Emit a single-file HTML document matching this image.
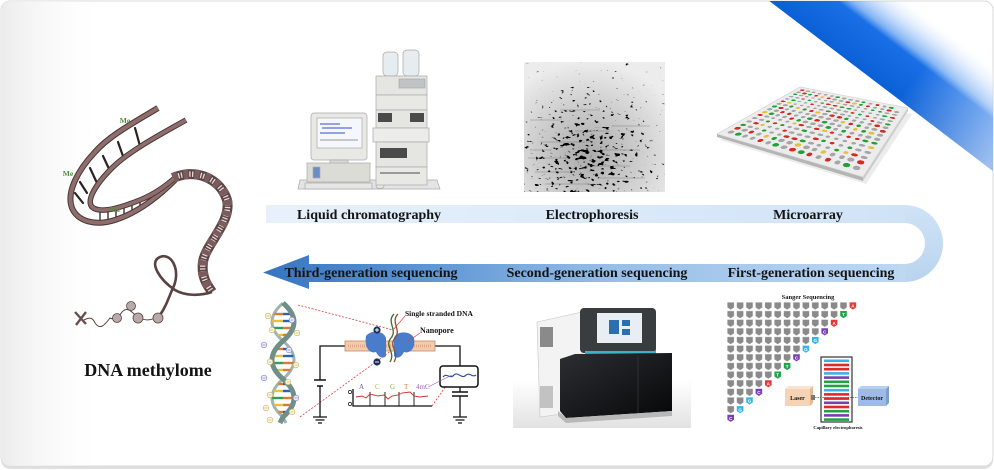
<!DOCTYPE html>
<html><head><meta charset="utf-8">
<style>
html,body{margin:0;padding:0;background:#fff;width:994px;height:470px;overflow:hidden;position:relative}
svg{display:block;position:absolute;left:0;top:0}
.t{font-family:"Liberation Serif","DejaVu Serif",serif;font-weight:bold;fill:#141414}
.cl{font-family:"Liberation Sans",sans-serif;font-size:4.6px;fill:#fff;text-anchor:middle;font-weight:bold}
#ma{position:absolute;left:0;top:0;width:100px;height:100px;transform-origin:0 0;
transform:matrix3d(4.2712,-0.0958,0,0.0043015,-0.1618,0.0974,0,-0.0018793,0,0,1,0,717,134,0,1);
display:grid;grid-template-columns:repeat(16,1fr);grid-template-rows:repeat(16,1fr);padding:3px;box-sizing:border-box}
#ma i{display:block;margin:1.15px;border-radius:50%;background:#a6a6a6}
#ma i.r{background:#d42a22}#ma i.g{background:#25a034}#ma i.y{background:#e3c040}
</style></head><body>
<svg width="994" height="470" viewBox="0 0 994 470" xmlns="http://www.w3.org/2000/svg">
<defs>
 <clipPath id="cc"><rect x="1" y="1" width="992" height="465" rx="9"/></clipPath>
 <linearGradient id="lg" x1="0" x2="1" y1="0" y2="0"><stop offset="0" stop-color="#ebebeb"/><stop offset="1" stop-color="#fff" stop-opacity="0"/></linearGradient>
 <linearGradient id="st1" gradientUnits="userSpaceOnUse" x1="880" y1="85" x2="930" y2="19">
  <stop offset="0" stop-color="#0c60d6"/><stop offset="0.5" stop-color="#1a6fe6"/><stop offset="0.6" stop-color="#5b9cf0" stop-opacity="0.75"/><stop offset="1" stop-color="#d8e8fb" stop-opacity="0"/>
 </linearGradient>
 <linearGradient id="st2" gradientUnits="userSpaceOnUse" x1="800" y1="0" x2="994" y2="160">
  <stop offset="0" stop-color="#fff" stop-opacity="0"/><stop offset="0.55" stop-color="#fff" stop-opacity="0"/><stop offset="1" stop-color="#fff" stop-opacity="0.6"/>
 </linearGradient>
 <linearGradient id="bt" x1="0" x2="1"><stop offset="0" stop-color="#e8f1fb"/><stop offset="1" stop-color="#d0e3f6"/></linearGradient>
 <linearGradient id="bc" x1="0" y1="0" x2="0" y2="1"><stop offset="0" stop-color="#d0e3f6"/><stop offset="1" stop-color="#b9d4ef"/></linearGradient>
 <linearGradient id="bb" gradientUnits="userSpaceOnUse" x1="263" y1="0" x2="905" y2="0"><stop offset="0" stop-color="#3574c0"/><stop offset="0.25" stop-color="#5c95d4"/><stop offset="0.55" stop-color="#98bfe8"/><stop offset="1" stop-color="#bed8f2"/></linearGradient>
 <radialGradient id="gelg" cx="0.45" cy="0.7" r="0.7"><stop offset="0" stop-color="#aaaaaa"/><stop offset="0.6" stop-color="#d2d2d2"/><stop offset="1" stop-color="#ececec"/></radialGradient>
 <radialGradient id="gelm" cx="0.45" cy="0.72" r="0.62"><stop offset="0" stop-color="#000"/><stop offset="1" stop-color="#fff"/></radialGradient>
 <filter id="spk" filterUnits="userSpaceOnUse" x="524" y="62" width="141" height="130" color-interpolation-filters="sRGB">
  <feTurbulence type="fractalNoise" baseFrequency="0.2 0.3" numOctaves="2" seed="5" result="n"/>
  <feColorMatrix in="n" type="matrix" values="1 0 0 0 0  1 0 0 0 0  1 0 0 0 0  0 0 0 0 1" result="g"/>
  <feComposite in="g" in2="SourceGraphic" operator="arithmetic" k1="0" k2="1" k3="0.22" k4="-0.04" result="v"/>
  <feColorMatrix in="v" type="matrix" values="0 0 0 0 0  0 0 0 0 0  0 0 0 0 0  -12 0 0 0 5.1"/>
 </filter>
 <linearGradient id="floor" x1="0" y1="0" x2="0" y2="1"><stop offset="0" stop-color="#fff"/><stop offset="1" stop-color="#e2e2e2"/></linearGradient>
 <linearGradient id="blk" x1="0" y1="0" x2="1" y2="1"><stop offset="0" stop-color="#2c2e32"/><stop offset="1" stop-color="#060708"/></linearGradient>
 <pattern id="gcell" patternUnits="userSpaceOnUse" x="726" y="301.7" width="9.4" height="8.64">
  <path d="M1.4,0.72h6.6v5l-3.3,2.2l-3.3,-2.2z" fill="#8a8a8a"/>
 </pattern>
</defs>

<!-- card -->
<rect x="1" y="3" width="992" height="466" rx="9" fill="#e0e0e0"/>
<rect x="1" y="1" width="992" height="465" rx="9" fill="#fff" stroke="#d9d9d9" stroke-width="1"/>
<g clip-path="url(#cc)">
 <rect x="0" y="0" width="110" height="470" fill="url(#lg)"/>
 <polygon points="768,0 905,0 994,67.6 994,171.8" fill="url(#st1)"/>
 <polygon points="768,0 905,0 994,67.6 994,171.8" fill="url(#st2)"/>
</g>

<!-- arrow band -->
<rect x="266" y="205" width="639" height="18" fill="url(#bt)"/>
<path d="M904.5,205 A38.5,38.5 0 0 1 904.5,282 L904.5,264 A20.5,20.5 0 0 0 904.5,223 Z" fill="url(#bc)"/>
<path d="M905,264 L309,264 L309,255 L263,272.5 L309,289 L309,282 L905,282 Z" fill="url(#bb)"/>
<text class="t" x="369" y="219" font-size="14" text-anchor="middle">Liquid chromatography</text>
<text class="t" x="592" y="219" font-size="14" text-anchor="middle">Electrophoresis</text>
<text class="t" x="808" y="219" font-size="14" text-anchor="middle">Microarray</text>
<text class="t" x="371" y="277" font-size="14" text-anchor="middle">Third-generation sequencing</text>
<text class="t" x="597" y="277" font-size="14" text-anchor="middle">Second-generation sequencing</text>
<text class="t" x="811" y="277" font-size="14" text-anchor="middle">First-generation sequencing</text>

<!-- LC instrument -->
<g stroke="#a9a9a9" stroke-width="0.7">
 <polygon points="300,180 437,180 440,189 298,189" fill="#e4e4e4"/>
 <rect x="311" y="113" width="56" height="47" rx="3" fill="#e8e8e4"/>
 <rect x="317" y="118" width="45" height="30" fill="#f5f7fc"/>
 <rect x="330" y="160" width="18" height="4" fill="#d8d8d4"/>
 <rect x="307" y="163" width="63" height="19" fill="#dcdcd7"/>
 <rect x="313" y="167" width="7" height="11" fill="#6c8cc8"/>
 <rect x="305" y="183" width="67" height="6" fill="#e6e6e6"/>
 <ellipse cx="380" cy="186" rx="4" ry="2.5" fill="#e6e6e6"/>
 <rect x="383" y="52" width="15" height="24" rx="4" fill="#e6ecef"/>
 <rect x="403" y="50" width="16" height="26" rx="4" fill="#e6ecef"/>
 <rect x="376" y="76" width="51" height="19" fill="#e5e5e2"/>
 <rect x="399" y="79" width="26" height="9" fill="#bfc3c3"/>
 <rect x="376" y="95" width="51" height="15" fill="#e8e8e5"/>
 <rect x="376" y="110" width="51" height="18" fill="#e5e5e2"/>
 <rect x="373" y="128" width="56" height="14" fill="#ececea"/>
 <rect x="376" y="142" width="51" height="25" fill="#e5e5e2"/>
 <rect x="376" y="167" width="51" height="18" fill="#e8e8e5"/>
</g>
<g fill="#4a4a4a">
 <rect x="378" y="113" width="14" height="9"/><rect x="410" y="113" width="14" height="9"/>
 <rect x="380" y="148" width="27" height="10"/>
 <rect x="380" y="172" width="40" height="2" fill="#999"/>
</g>
<g stroke="#3050c0" stroke-width="1">
 <path d="M320,124 H340 M322,128 H352 M320,133 H345"/><path d="M320,140 H358" stroke="#999"/>
</g>

<!-- Gel -->
<rect x="524" y="62" width="141" height="130" fill="url(#gelg)"/>
<rect x="524" y="62" width="141" height="130" fill="url(#gelm)" filter="url(#spk)"/>
<g stroke="#444" stroke-opacity="0.35" stroke-width="0.7">
 <path d="M530,120 H560 M575,131 H610 M540,142 H585 M600,150 H640 M528,158 H570 M585,166 H630 M535,172 H575 M600,178 H645 M545,184 H590 M560,110 H600 M612,126 H650 M530,150 H552"/>
</g>

<!-- Microarray slide -->
<polygon points="720,140 866,184 912,114 804,94" fill="#e0e0e0" opacity="0.6"/>
<polygon points="717,134 863,177 863,181 717,137" fill="#b5b5b5"/>
<polygon points="863,177 908,108 908,111 863,181" fill="#cdcdcd"/>
<polygon points="717,134 800,87 908,108 863,177" fill="#ececec" stroke="#cfcfcf" stroke-width="0.6"/>

<!-- Left DNA illustration -->
<g>
 <g stroke="#2a2222" stroke-width="2.2" stroke-linecap="round">
  <line x1="135" y1="128" x2="140" y2="146"/>
  <line x1="118" y1="142" x2="124" y2="159"/>
  <line x1="103" y1="156" x2="110" y2="171"/>
  <line x1="90" y1="168" x2="97" y2="183"/>
  <line x1="80" y1="182" x2="87" y2="193"/>
  <line x1="75" y1="193" x2="83" y2="203"/>
 </g>
 <g stroke="#2a2222" stroke-width="1.3">
  <path d="M100,212 V223 M108,211 V222 M116,209 V220 M124,207 V218 M132,204 V215 M140,200 V211 M148,197 V206 M156,193 V200 M164,188 V194"/>
 </g>
 <g fill="none">
  <path d="M158,108 C135,122 110,135 95,152 C78,170 66,192 72,208 C78,222 96,226 115,220 C140,212 160,195 175,180" stroke="#4b3535" stroke-width="6"/>
  <path d="M158,108 C135,122 110,135 95,152 C78,170 66,192 72,208 C78,222 96,226 115,220 C140,212 160,195 175,180" stroke="#8d6e6c" stroke-width="4"/>
  <path d="M186,120 C165,132 130,150 112,168 C96,184 86,200 92,207 C100,214 120,208 140,200 C155,194 166,186 177,176" stroke="#4b3535" stroke-width="5.5"/>
  <path d="M186,120 C165,132 130,150 112,168 C96,184 86,200 92,207 C100,214 120,208 140,200 C155,194 166,186 177,176" stroke="#8d6e6c" stroke-width="3.6"/>
  <!-- helix -->
  <path d="M173,178 C195,168 220,178 227,200 C232,222 205,245 203,262 C201,278 208,286 212,292" stroke="#5e4545" stroke-width="10"/>
  <path d="M173,178 C195,168 220,178 227,200 C232,222 205,245 203,262 C201,278 208,286 212,292" stroke="#e6dcdc" stroke-width="5.5" stroke-dasharray="1.3,1.5"/>
  <path d="M173,178 C195,168 220,178 227,200 C232,222 205,245 203,262 C201,278 208,286 212,292" stroke="#7b5b5b" stroke-width="10" stroke-dasharray="5,6"/>
  <path d="M212,292 C200,296 185,296 175,290 C160,280 148,262 160,257 C172,252 182,272 172,290 C168,300 165,308 160,315" stroke="#5a4242" stroke-width="2.6"/>
  <path d="M160,315 C150,322 145,320 138,318 C132,312 128,306 122,312 C118,318 114,320 110,318 C104,326 100,330 95,323 C92,316 88,318 84,320" stroke="#5a4242" stroke-width="1"/>
 </g>
 <g fill="#b9aaaa" stroke="#5a4545" stroke-width="0.8">
  <circle cx="158" cy="318" r="5"/><circle cx="138" cy="318" r="5"/><circle cx="131" cy="306" r="4.5"/><circle cx="117" cy="318" r="4.5"/>
 </g>
 <path d="M75,312 L86,324 M86,312 L76,325" stroke="#6a4d4d" stroke-width="2.4"/>
 <text class="t" x="125" y="123" font-size="7.5" text-anchor="middle" style="fill:#4f8f3a">Me</text>
 <text class="t" x="68" y="176" font-size="7.5" text-anchor="middle" style="fill:#4f8f3a">Me</text>
 <text class="t" x="115" y="212" font-size="7.5" text-anchor="middle" style="fill:#4f8f3a">Me</text>
</g>
<text class="t" x="148" y="376" font-size="18" text-anchor="middle">DNA methylome</text>

<!-- Nanopore: helix -->
<path d="M283,303 Q261,322 283,341 Q305,360 283,379 Q261,398 283,417 L286,423" fill="none" stroke="#9fb4ad" stroke-width="3"/>
<g stroke-width="2.4">
 <path d="M274.3,314 H283" stroke="#e07a30"/><path d="M283,314 H291.7" stroke="#2a60c0"/>
 <path d="M272,321 H283" stroke="#e8c040"/><path d="M283,321 H294" stroke="#2a60c0"/>
 <path d="M273.3,328 H283" stroke="#30a050"/><path d="M283,328 H292.7" stroke="#e07a30"/>
 <path d="M277.8,335 H283" stroke="#e8c040"/><path d="M283,335 H288.2" stroke="#e07a30"/>
 <path d="M276.2,349 H283" stroke="#e07a30"/><path d="M283,349 H289.8" stroke="#2a60c0"/>
 <path d="M272.6,356 H283" stroke="#e8c040"/><path d="M283,356 H293.4" stroke="#2a60c0"/>
 <path d="M272.3,363 H283" stroke="#30a050"/><path d="M283,363 H293.7" stroke="#e07a30"/>
 <path d="M275.5,370 H283" stroke="#e8c040"/><path d="M283,370 H290.5" stroke="#e07a30"/>
 <path d="M278.5,384 H283" stroke="#e07a30"/><path d="M283,384 H287.5" stroke="#2a60c0"/>
 <path d="M273.7,391 H283" stroke="#e8c040"/><path d="M283,391 H292.3" stroke="#2a60c0"/>
 <path d="M272,398 H283" stroke="#30a050"/><path d="M283,398 H294" stroke="#e07a30"/>
 <path d="M273.8,405 H283" stroke="#e8c040"/><path d="M283,405 H292.2" stroke="#e07a30"/>
 <path d="M278.6,412 H283" stroke="#e07a30"/><path d="M283,412 H287.4" stroke="#2a60c0"/>
</g>
<path d="M283,303 Q305,322 283,341 Q261,360 283,379 Q305,398 283,417 L280,423" fill="none" stroke="#6f8f88" stroke-width="5"/>
<g stroke-width="0.6">
 <g fill="#fff8e0" stroke="#c8b060">
  <circle cx="268" cy="316" r="2.8"/><circle cx="272" cy="330" r="2.8"/><circle cx="297" cy="333" r="2.8"/>
  <circle cx="270" cy="362" r="2.8"/><circle cx="296" cy="365" r="2.8"/><circle cx="288" cy="382" r="2.8"/>
  <circle cx="270" cy="395" r="2.8"/><circle cx="266" cy="408" r="2.8"/><circle cx="292" cy="412" r="2.8"/><circle cx="270" cy="420" r="2.8"/>
 </g>
 <g fill="#eef" stroke="#8080c0">
  <circle cx="292" cy="320" r="2.8"/><circle cx="264" cy="345" r="2.8"/><circle cx="289" cy="350" r="2.8"/>
  <circle cx="264" cy="378" r="2.8"/><circle cx="296" cy="398" r="2.8"/>
 </g>
 <path d="M266.5,316h3M270.5,330h3M295.5,333h3M268.5,362h3M294.5,365h3M286.5,382h3M268.5,395h3M264.5,408h3M290.5,412h3M268.5,420h3" stroke="#a89040"/>
 <path d="M290.5,320h3M262.5,345h3M287.5,350h3M262.5,378h3M294.5,398h3" stroke="#6060a0"/>
</g>

<!-- Nanopore: circuit -->
<g stroke="#e04040" stroke-width="0.8" stroke-dasharray="2,1.5" fill="none">
 <path d="M298,305 L393,330"/><path d="M300,417 L395,348"/>
 <path d="M432,406 L450,380"/>
</g>
<g fill="none" stroke="#111" stroke-width="1.3">
 <path d="M345,346 H320 V380 M320,386 V417"/>
 <path d="M314,380 H326 M317,386 H323" stroke-width="1.6"/>
 <path d="M313,417 H327 M315.5,420 H324.5 M318,423 H322"/>
 <path d="M435,346 H460 V366 M460,387 V392 M460,396 V417"/>
 <path d="M452,392 H468 M452,396 H468" stroke-width="1.6"/>
 <path d="M453,417 H467 M455.5,420 H464.5 M458,423 H462"/>
 <rect x="440" y="366" width="38" height="21" rx="3" fill="#fff" stroke-width="1.5"/>
 <path d="M353,389 V406 H432"/>
 <path d="M370,392 V406 M385,392 V406 M399,392 V406 M414,392 V406" stroke-width="0.9"/>
</g>
<circle cx="350" cy="392" r="1.6" fill="#fff" stroke="#111" stroke-width="0.7"/>
<circle cx="350" cy="404" r="1.6" fill="#fff" stroke="#111" stroke-width="0.7"/>
<path d="M356,397 L362,396 L366,398 L370,394 L378,396 L384,395 L388,399 L392,396 L398,395 L402,393 L410,392 L414,396 L420,397 L428,396" fill="none" stroke="#d03030" stroke-width="0.9"/>
<path d="M443,377 C447,372 450,380 454,375 C458,371 462,380 466,375 C470,372 472,378 476,375" fill="none" stroke="#2a4aa0" stroke-width="1.1"/>
<path d="M428,387 L452,375" stroke="#9a60c0" stroke-width="0.6"/>
<rect x="345" y="341" width="90" height="10" fill="#f2ccae" stroke="#c58a64" stroke-width="0.8"/>
<path d="M348,346 H432" stroke="#e0a888" stroke-width="3" stroke-dasharray="1,1"/>
<path d="M366,336 C372,329 384,331 386,338 L386,356 C382,360 378,356 376,352 C370,354 364,348 366,336Z" fill="#4a7ccc"/>
<path d="M394,338 C396,331 410,330 414,338 C416,348 410,354 404,352 C402,356 398,360 394,356 Z" fill="#4a7ccc"/>
<path d="M398,314 C390,322 402,330 395,338 C388,346 400,352 394,362" fill="none" stroke="#8a5030" stroke-width="1.3"/>
<path d="M394,314 C386,322 398,330 391,338 C384,346 396,352 390,362" fill="none" stroke="#3f6b2a" stroke-width="1.3"/>
<circle cx="377" cy="330" r="3.6" fill="#1e2d5c"/><path d="M375,330 H379 M377,328 V332" stroke="#fff" stroke-width="0.9"/>
<circle cx="377" cy="362" r="3.6" fill="#1e2d5c"/><path d="M375,362 H379" stroke="#fff" stroke-width="0.9"/>
<path d="M405,316 L393,330 M420,333 L407,342" stroke="#e04040" stroke-width="0.7"/>
<text class="t" x="405" y="316" font-size="7.5">Single stranded DNA</text>
<text class="t" x="420" y="333" font-size="8">Nanopore</text>
<g font-family="Liberation Serif, serif" font-size="7">
 <text x="359" y="389" fill="#5a5aa8">A</text>
 <text x="375" y="389" fill="#b8b040">C</text>
 <text x="390" y="389" fill="#90a840">G</text>
 <text x="404" y="389" fill="#e08030">T</text>
 <text x="416" y="389" fill="#9a60c0">4mC</text>
</g>

<!-- Sequencer -->
<rect x="513" y="380" width="178" height="48" fill="url(#floor)"/>
<polygon points="537,322 582,312 582,356 562,358 562,414 540,417" fill="#f3f3f3" stroke="#c4c4c4" stroke-width="0.6"/>
<rect x="540" y="327" width="13" height="20" fill="#8a8a8a"/>
<rect x="540" y="386" width="13" height="22" fill="#c2c2c2"/>
<rect x="580" y="308" width="76" height="45" rx="4" fill="#3a3d40"/>
<rect x="597" y="313" width="45" height="30" fill="#e8eef4"/>
<rect x="609" y="320" width="10" height="14" fill="#2d6fae"/>
<rect x="622" y="320" width="8" height="6" fill="#2d6fae"/>
<rect x="622" y="329" width="8" height="6" fill="#2d6fae"/>
<rect x="585" y="351" width="71" height="4" fill="#3bb3c3"/>
<polygon points="560,359 575,354 672,353 672,411 566,418 560,411" fill="url(#blk)"/>
<path d="M638,356 V414" stroke="#3a3a3a" stroke-width="0.7"/>
<polygon points="558,411 566,418 672,411 672,416 566,423 558,416" fill="#b8b8b8"/>

<!-- Sanger -->
<text class="t" x="808" y="299" font-size="6.5" text-anchor="middle">Sanger Sequencing</text>
<polygon fill="url(#gcell)" points="726,301.7 848.2,301.7 848.2,310.34 838.8,310.34 838.8,318.98 829.4,318.98 829.4,327.62 820,327.62 820,336.26 810.6,336.26 810.6,344.9 801.2,344.9 801.2,353.54 791.8,353.54 791.8,362.18 782.4,362.18 782.4,370.82 773,370.82 773,379.46 763.6,379.46 763.6,388.1 754.2,388.1 754.2,396.74 744.8,396.74 744.8,405.38 735.4,405.38 735.4,414.02 726,414.02"/>
<g>
 <g transform="translate(852.9,306)"><path d="M-3.3,-3.6h6.6v5l-3.3,2.2l-3.3,-2.2z" fill="#e23a3a"/><text class="cl" y="1.6">A</text></g>
 <g transform="translate(843.5,314.6)"><path d="M-3.3,-3.6h6.6v5l-3.3,2.2l-3.3,-2.2z" fill="#1fa64a"/><text class="cl" y="1.6">T</text></g>
 <g transform="translate(834.1,323.3)"><path d="M-3.3,-3.6h6.6v5l-3.3,2.2l-3.3,-2.2z" fill="#e23a3a"/><text class="cl" y="1.6">A</text></g>
 <g transform="translate(824.7,331.9)"><path d="M-3.3,-3.6h6.6v5l-3.3,2.2l-3.3,-2.2z" fill="#7b3fb5"/><text class="cl" y="1.6">C</text></g>
 <g transform="translate(815.3,340.6)"><path d="M-3.3,-3.6h6.6v5l-3.3,2.2l-3.3,-2.2z" fill="#35b4e8"/><text class="cl" y="1.6">G</text></g>
 <g transform="translate(805.9,349.2)"><path d="M-3.3,-3.6h6.6v5l-3.3,2.2l-3.3,-2.2z" fill="#35b4e8"/><text class="cl" y="1.6">G</text></g>
 <g transform="translate(796.5,357.8)"><path d="M-3.3,-3.6h6.6v5l-3.3,2.2l-3.3,-2.2z" fill="#7b3fb5"/><text class="cl" y="1.6">C</text></g>
 <g transform="translate(787.1,366.5)"><path d="M-3.3,-3.6h6.6v5l-3.3,2.2l-3.3,-2.2z" fill="#1fa64a"/><text class="cl" y="1.6">T</text></g>
 <g transform="translate(777.7,375.1)"><path d="M-3.3,-3.6h6.6v5l-3.3,2.2l-3.3,-2.2z" fill="#1fa64a"/><text class="cl" y="1.6">T</text></g>
 <g transform="translate(768.3,383.8)"><path d="M-3.3,-3.6h6.6v5l-3.3,2.2l-3.3,-2.2z" fill="#e23a3a"/><text class="cl" y="1.6">A</text></g>
 <g transform="translate(758.9,392.4)"><path d="M-3.3,-3.6h6.6v5l-3.3,2.2l-3.3,-2.2z" fill="#7b3fb5"/><text class="cl" y="1.6">C</text></g>
 <g transform="translate(749.5,401.0)"><path d="M-3.3,-3.6h6.6v5l-3.3,2.2l-3.3,-2.2z" fill="#35b4e8"/><text class="cl" y="1.6">G</text></g>
 <g transform="translate(740.1,409.7)"><path d="M-3.3,-3.6h6.6v5l-3.3,2.2l-3.3,-2.2z" fill="#35b4e8"/><text class="cl" y="1.6">G</text></g>
 <g transform="translate(730.7,418.3)"><path d="M-3.3,-3.6h6.6v5l-3.3,2.2l-3.3,-2.2z" fill="#7b3fb5"/><text class="cl" y="1.6">C</text></g>
</g>
<rect x="821" y="357" width="31" height="65" fill="#fff" stroke="#333" stroke-width="1.2"/>
<g>
 <rect x="824" y="359.5" width="25" height="2.6" fill="#3ab0e6"/>
 <rect x="824" y="363.7" width="25" height="2.6" fill="#e02a2a"/>
 <rect x="824" y="367.9" width="25" height="2.6" fill="#e02a2a"/>
 <rect x="824" y="372.1" width="25" height="2.6" fill="#3ab0e6"/>
 <rect x="824" y="376.3" width="25" height="2.6" fill="#7a3fb0"/>
 <rect x="824" y="380.5" width="25" height="2.6" fill="#22a045"/>
 <rect x="824" y="384.7" width="25" height="2.6" fill="#22a045"/>
 <rect x="824" y="388.9" width="25" height="2.6" fill="#3ab0e6"/>
 <rect x="824" y="393.1" width="25" height="2.6" fill="#e02a2a"/>
 <rect x="824" y="397.3" width="25" height="2.6" fill="#e02a2a"/>
 <rect x="824" y="401.5" width="25" height="2.6" fill="#7a3fb0"/>
 <rect x="824" y="405.7" width="25" height="2.6" fill="#e02a2a"/>
 <rect x="824" y="409.9" width="25" height="2.6" fill="#22a045"/>
 <rect x="824" y="414.1" width="25" height="2.6" fill="#7a3fb0"/>
 <rect x="824" y="418.3" width="25" height="2.6" fill="#22a045"/>
</g>
<polygon points="785,389 788,386 813,386 810,389" fill="#fae2cc"/>
<polygon points="810,389 813,386 813,403 810,406" fill="#e6b994"/>
<rect x="785" y="389" width="25" height="17" fill="#f6d3b5"/>
<rect x="811" y="395" width="4" height="5" fill="#777"/>
<polygon points="858,389 861,386 889,386 886,389" fill="#b8cff0"/>
<polygon points="886,389 889,386 889,403 886,406" fill="#7d9fd0"/>
<rect x="858" y="389" width="28" height="17" fill="#9dbbe6"/>
<path d="M815,397.5 H858" stroke="#d03030" stroke-width="0.8" stroke-dasharray="1.5,1"/>
<text class="t" x="797.5" y="400" font-size="6" text-anchor="middle">Laser</text>
<text class="t" x="872" y="400" font-size="6" text-anchor="middle">Detector</text>
<text class="t" x="838" y="429" font-size="4.6" text-anchor="middle">Capillary electrophoresis</text>
</svg>

<div id="ma"><i></i><i class="r"></i><i class="g"></i><i></i><i></i><i class="r"></i><i class="y"></i><i></i><i class="g"></i><i></i><i class="r"></i><i></i><i></i><i class="g"></i><i></i><i class="r"></i><i class="g"></i><i></i><i></i><i class="r"></i><i></i><i></i><i class="g"></i><i></i><i class="r"></i><i></i><i class="y"></i><i class="g"></i><i></i><i></i><i class="r"></i><i></i><i></i><i class="r"></i><i></i><i class="y"></i><i class="g"></i><i></i><i></i><i class="r"></i><i></i><i class="g"></i><i></i><i></i><i class="r"></i><i></i><i class="g"></i><i></i><i></i><i></i><i class="g"></i><i></i><i class="r"></i><i></i><i></i><i class="r"></i><i></i><i class="y"></i><i></i><i></i><i class="g"></i><i></i><i class="r"></i><i></i><i class="r"></i><i class="y"></i><i></i><i></i><i class="g"></i><i></i><i class="r"></i><i></i><i></i><i class="g"></i><i></i><i class="r"></i><i></i><i></i><i class="y"></i><i></i><i></i><i class="g"></i><i></i><i class="r"></i><i></i><i class="y"></i><i class="g"></i><i></i><i></i><i class="r"></i><i></i><i></i><i class="g"></i><i></i><i class="r"></i><i></i><i class="g"></i><i></i><i class="r"></i><i></i><i></i><i class="r"></i><i></i><i class="g"></i><i></i><i class="y"></i><i></i><i></i><i class="r"></i><i></i><i></i><i class="g"></i><i></i><i></i><i class="r"></i><i></i><i class="g"></i><i></i><i></i><i class="r"></i><i></i><i></i><i class="g"></i><i></i><i class="r"></i><i class="y"></i><i></i><i></i><i class="r"></i><i class="y"></i><i class="g"></i><i></i><i></i><i class="r"></i><i></i><i class="g"></i><i></i><i class="r"></i><i></i><i></i><i class="g"></i><i></i><i class="r"></i><i></i><i class="g"></i><i></i><i></i><i class="r"></i><i></i><i class="y"></i><i class="g"></i><i></i><i></i><i class="r"></i><i></i><i></i><i class="g"></i><i></i><i class="y"></i><i></i><i class="r"></i><i></i><i></i><i class="g"></i><i></i><i class="r"></i><i></i><i></i><i class="y"></i><i class="g"></i><i></i><i class="r"></i><i></i><i></i><i class="g"></i><i class="g"></i><i></i><i class="y"></i><i></i><i class="r"></i><i></i><i></i><i class="g"></i><i></i><i class="r"></i><i></i><i></i><i class="g"></i><i></i><i></i><i class="r"></i><i></i><i class="r"></i><i></i><i class="g"></i><i></i><i></i><i class="r"></i><i></i><i class="y"></i><i class="g"></i><i></i><i></i><i class="r"></i><i></i><i class="g"></i><i></i><i class="r"></i><i></i><i></i><i class="y"></i><i class="g"></i><i></i><i class="r"></i><i></i><i class="g"></i><i></i><i></i><i class="r"></i><i></i><i></i><i class="g"></i><i></i><i></i><i class="g"></i><i></i><i class="r"></i><i></i><i></i><i class="g"></i><i></i><i class="y"></i><i></i><i class="r"></i><i></i><i></i><i class="g"></i><i></i><i class="r"></i><i class="g"></i><i></i><i class="r"></i><i></i><i></i><i class="y"></i><i class="g"></i><i></i><i></i><i class="r"></i><i></i><i class="g"></i><i></i><i class="r"></i><i></i><i></i></div>
</body></html>
